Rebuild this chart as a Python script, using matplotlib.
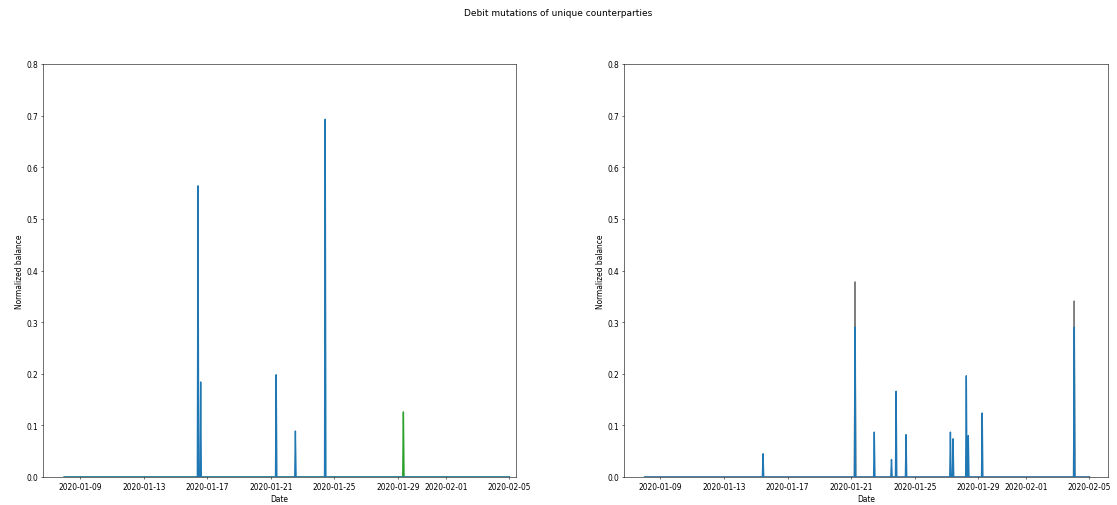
"""Debit mutations of unique counterparties, two panels."""

import matplotlib

matplotlib.use("Agg")
import matplotlib.pyplot as plt
import matplotlib.dates as mdates
import numpy as np
import pandas as pd

# spikes: timestamp, normalized balance, series colour
left_times = [
    "2020-01-29 08:00",
    "2020-01-16 10:00", "2020-01-16 14:00", "2020-01-21 08:00",
    "2020-01-22 13:00", "2020-01-24 10:00",
]
left_values = [0.126, 0.564, 0.184, 0.198, 0.089, 0.693]
left_colors = ["tab:green", "tab:blue", "tab:blue", "tab:blue", "tab:blue", "tab:blue"]

right_times = [
    "2020-01-21 06:00", "2020-02-04 01:00",
    "2020-01-15 11:00", "2020-01-21 06:00", "2020-01-22 11:00",
    "2020-01-23 13:00", "2020-01-23 20:00", "2020-01-24 11:00",
    "2020-01-27 06:00", "2020-01-27 10:00", "2020-01-28 06:00",
    "2020-01-28 09:00", "2020-01-29 06:00", "2020-02-04 01:00",
]
right_values = [
    0.378, 0.341,
    0.045, 0.290, 0.087,
    0.034, 0.166, 0.082,
    0.087, 0.074, 0.196,
    0.080, 0.124, 0.290,
]
right_colors = ["tab:gray"] * 2 + ["tab:blue"] * 12

x_start = "2020-01-08 00:00"
x_end = "2020-02-05 00:00"
left_xlim = ("2020-01-06 16:00", "2020-02-05 10:00")
right_xlim = ("2020-01-06 17:00", "2020-02-06 04:00")

plt.rcParams["font.size"] = 10.8


def build_series(times, values, colors):
    """One hourly series per colour, zero except at the listed spikes."""
    index = pd.date_range(x_start, x_end, freq="h")
    frames = {}
    for t, v, c in zip(times, values, colors):
        if c not in frames:
            frames[c] = pd.Series(np.zeros(len(index)), index=index)
        frames[c].loc[pd.Timestamp(t)] = v
    return frames


fig = plt.figure(figsize=(1117 / 50, 506 / 50), dpi=50)
fig.suptitle("Debit mutations of unique counterparties", y=0.982)

ax_left = fig.add_axes([43 / 1117, 1 - 478 / 506, 473 / 1117, 413 / 506])
ax_right = fig.add_axes([624 / 1117, 1 - 478 / 506, 484 / 1117, 413 / 506])

panels = [
    (ax_left, left_times, left_values, left_colors, left_xlim),
    (ax_right, right_times, right_values, right_colors, right_xlim),
]
for ax, times, values, colors, xlim in panels:
    for color, series in build_series(times, values, colors).items():
        ax.plot(series.index, series.values, color=color, lw=2)
    ax.set_ylim(0, 0.8)
    ax.set_yticks(np.arange(0, 0.81, 0.1))
    ax.set_xlim(pd.Timestamp(xlim[0]), pd.Timestamp(xlim[1]))
    ax.xaxis.set_major_locator(mdates.DayLocator(bymonthday=[1, 5, 9, 13, 17, 21, 25, 29]))
    ax.xaxis.set_major_formatter(mdates.DateFormatter("%Y-%m-%d"))
    ax.set_xlabel("Date")
    ax.set_ylabel("Normalized balance")

fig.savefig("out.png", dpi=50)
plt.close(fig)
